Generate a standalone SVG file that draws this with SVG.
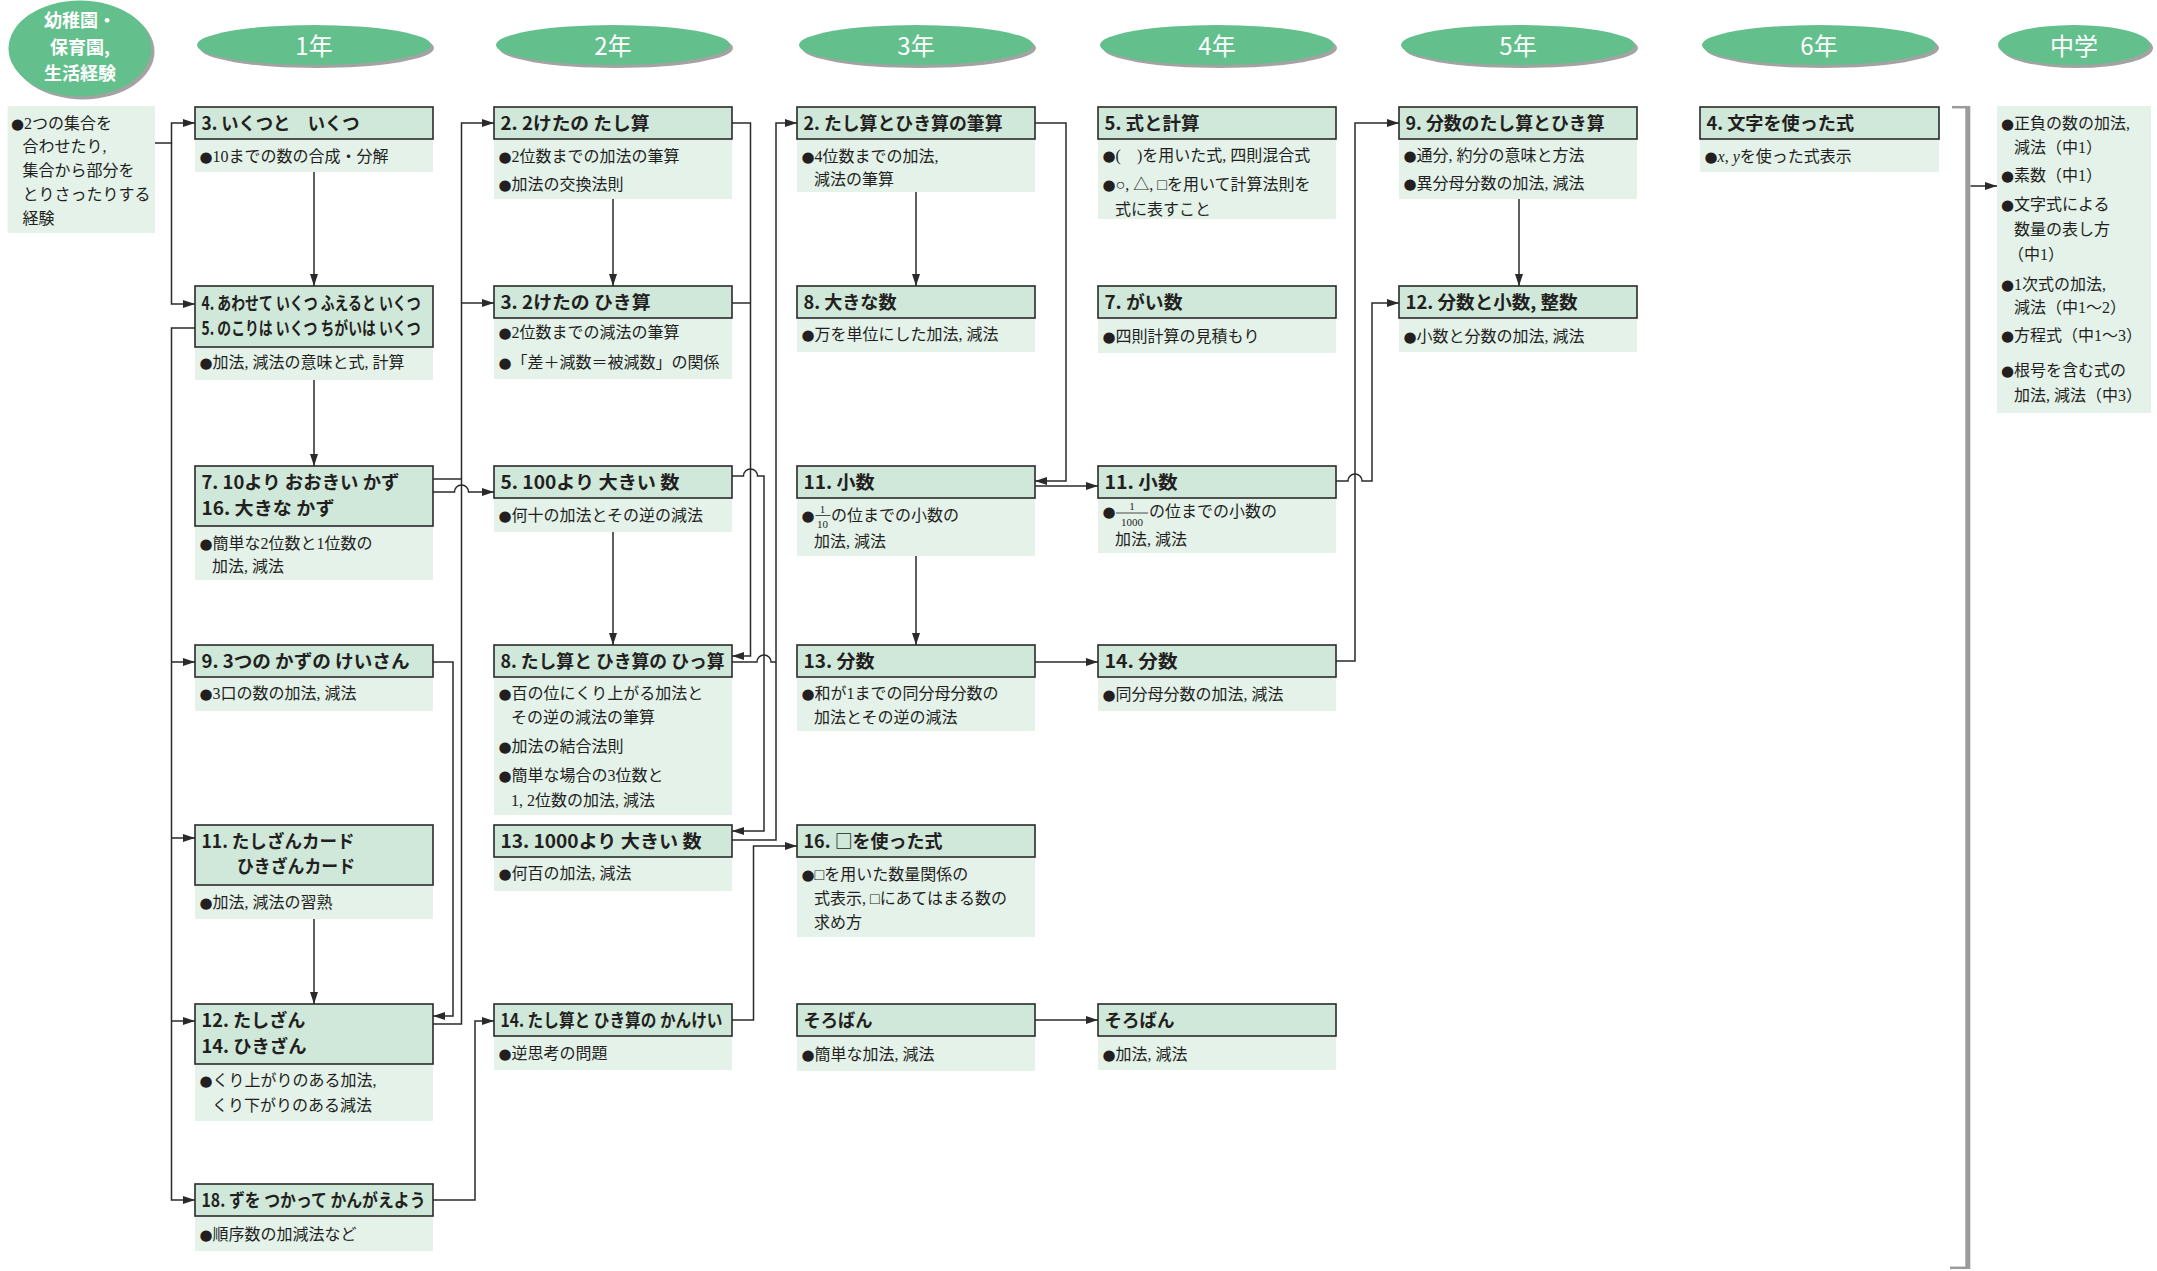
<svg xmlns="http://www.w3.org/2000/svg" width="2157" height="1271" viewBox="0 0 2157 1271">
<style>
.hd{fill:#cfe8da;stroke:#2a2a2a;stroke-width:1.6}
.bd{fill:#e4f2ea}
.ht{font-family:"Noto Sans CJK JP","Noto Sans",sans-serif;font-size:18px;font-weight:700;fill:#231f20}
.bt{font-family:"Liberation Serif","Noto Sans CJK JP",serif;font-size:16px;fill:#231f20}
.bl{font-family:"DejaVu Sans",sans-serif;font-size:15px}
.fr{font-family:"Liberation Serif",serif;font-size:11px;fill:#231f20;text-anchor:middle}
.el{fill:#63c08d}
.sh{fill:#a3a3a3}
.et{font-family:"Noto Sans CJK JP","Noto Sans",sans-serif;font-size:24px;fill:#ffffff;text-anchor:middle}
.kt{font-family:"Noto Sans CJK JP","Noto Sans",sans-serif;font-size:18px;font-weight:700;fill:#ffffff;text-anchor:middle}
.cn{fill:none;stroke:#2a2a2a;stroke-width:1.5}
.ar{marker-end:url(#ah)}
.br{fill:none;stroke:#9b9b9b}
.fb{stroke:#231f20;stroke-width:0.8}
</style>
<defs>
<marker id="ah" markerUnits="userSpaceOnUse" markerWidth="13" markerHeight="9" refX="12" refY="4" orient="auto"><path d="M0,0 L12,4 L0,8 z" fill="#2a2a2a"/></marker>
</defs>
<rect x="0" y="0" width="2157" height="1271" fill="#ffffff"/>

<!-- grade labels -->
<g id="grade-k"><ellipse class="sh" cx="83" cy="51.5" rx="71.5" ry="48"/><ellipse class="el" cx="80" cy="48.5" rx="71.5" ry="48"/>
<text class="kt" x="80" y="27">幼稚園・</text><text class="kt" x="80" y="53.5">保育園,</text><text class="kt" x="80" y="80">生活経験</text></g>
<g id="grade-1"><ellipse class="sh" cx="317" cy="48" rx="117" ry="20"/><ellipse class="el" cx="314" cy="45" rx="117" ry="20"/><text class="et" x="314" y="55">1年</text></g>
<g id="grade-2"><ellipse class="sh" cx="616" cy="48" rx="117" ry="20"/><ellipse class="el" cx="613" cy="45" rx="117" ry="20"/><text class="et" x="613" y="55">2年</text></g>
<g id="grade-3"><ellipse class="sh" cx="919" cy="48" rx="117" ry="20"/><ellipse class="el" cx="916" cy="45" rx="117" ry="20"/><text class="et" x="916" y="55">3年</text></g>
<g id="grade-4"><ellipse class="sh" cx="1220" cy="48" rx="117" ry="20"/><ellipse class="el" cx="1217" cy="45" rx="117" ry="20"/><text class="et" x="1217" y="55">4年</text></g>
<g id="grade-5"><ellipse class="sh" cx="1521" cy="48" rx="117" ry="20"/><ellipse class="el" cx="1518" cy="45" rx="117" ry="20"/><text class="et" x="1518" y="55">5年</text></g>
<g id="grade-6"><ellipse class="sh" cx="1822" cy="48" rx="117" ry="20"/><ellipse class="el" cx="1819" cy="45" rx="117" ry="20"/><text class="et" x="1819" y="55">6年</text></g>
<g id="grade-j"><ellipse class="sh" cx="2077" cy="48" rx="76" ry="20"/><ellipse class="el" cx="2074" cy="45" rx="76" ry="20"/><text class="et" x="2074" y="55">中学</text></g>

<!-- connectors -->
<g id="connectors">
<path class="cn ar" d="M155,143 H171.5 V123 H195"/>
<path class="cn ar" d="M171.5,143 V304 H195"/>
<path class="cn ar" d="M195,328 H171.5 V1200 H195"/>
<path class="cn ar" d="M171.5,662 H195"/>
<path class="cn ar" d="M171.5,838 H195"/>
<path class="cn ar" d="M171.5,1021 H195"/>
<path class="cn ar" d="M314,172 V286"/>
<path class="cn ar" d="M314,380 V466"/>
<path class="cn ar" d="M314,919 V1004"/>
<path class="cn ar" d="M433,1024 H461.5 V123 H494"/>
<path class="cn" d="M433,479 H461.5"/>
<path class="cn ar" d="M461.5,303 H494"/>
<path class="cn ar" d="M433,492 H454.5 A7,7 0 0 1 468.5,492 H494"/>
<path class="cn ar" d="M433,662 H453 V1016 H433"/>
<path class="cn ar" d="M433,1200 H475 V1021 H494"/>
<path class="cn ar" d="M613,199 V286"/>
<path class="cn ar" d="M613,532 V645"/>
<path class="cn ar" d="M732,123 H750.5 V656 H732"/>
<path class="cn" d="M732,303 H750.5"/>
<path class="cn ar" d="M732,476 H743.5 A7,7 0 0 1 757.5,476 H764 V831 H732"/>
<path class="cn" d="M732,662 H757 A7,7 0 0 1 771,662 H776"/>
<path class="cn ar" d="M732,840 H776 V123 H797"/>
<path class="cn ar" d="M732,1020 H753.5 V846 H797"/>
<path class="cn ar" d="M916,192 V286"/>
<path class="cn ar" d="M916,556 V645"/>
<path class="cn ar" d="M1035,123 H1066 V481 H1035"/>
<path class="cn ar" d="M1035,486 H1098"/>
<path class="cn ar" d="M1035,662 H1098"/>
<path class="cn ar" d="M1035,1020 H1098"/>
<path class="cn ar" d="M1336,481 H1348 A7,7 0 0 1 1362,481 H1372 V303 H1399"/>
<path class="cn ar" d="M1336,661 H1355 V123 H1399"/>
<path class="cn ar" d="M1519,199 V286"/>
<path class="br" stroke-width="2.5" d="M1952,107.2 H1968"/>
<path class="br" stroke-width="5" d="M1967.8,106 V1269"/>
<path class="br" stroke-width="2.5" d="M1950,1267.8 H1968"/>
<path class="cn ar" d="M1970.5,186 H1997"/>
</g>

<!-- kindergarten -->
<g id="kinder">
<rect class="bd" x="7.6" y="106" width="147.4" height="127"/>
<text class="bt" x="11" y="128.5"><tspan class="bl">●</tspan>2つの集合を</text>
<text class="bt" x="22.4" y="152">合わせたり,</text>
<text class="bt" x="22.4" y="176">集合から部分を</text>
<text class="bt" x="22.4" y="200">とりさったりする</text>
<text class="bt" x="22.4" y="224">経験</text>
</g>

<!-- column 1 -->
<g id="n1-3"><rect class="bd" x="195" y="139" width="238" height="33"/><rect class="hd" x="195" y="107" width="238" height="32"/>
<text class="ht" x="201.5" y="130" textLength="158" lengthAdjust="spacingAndGlyphs">3. いくつと　いくつ</text>
<text class="bt" x="199.5" y="161.5"><tspan class="bl">●</tspan>10までの数の合成・分解</text></g>
<g id="n1-4"><rect class="bd" x="195" y="347" width="238" height="33"/><rect class="hd" x="195" y="286" width="238" height="61"/>
<text class="ht" x="201.5" y="310" textLength="219" lengthAdjust="spacingAndGlyphs">4. あわせて いくつ ふえると いくつ</text>
<text class="ht" x="201.5" y="335" textLength="219" lengthAdjust="spacingAndGlyphs">5. のこりは いくつ ちがいは いくつ</text>
<text class="bt" x="199.5" y="368"><tspan class="bl">●</tspan>加法, 減法の意味と式, 計算</text></g>
<g id="n1-7"><rect class="bd" x="195" y="526" width="238" height="54"/><rect class="hd" x="195" y="466" width="238" height="60"/>
<text class="ht" x="201.5" y="488.5" textLength="198" lengthAdjust="spacingAndGlyphs">7. 10より おおきい かず</text>
<text class="ht" x="201.5" y="514.5" textLength="133" lengthAdjust="spacingAndGlyphs">16. 大きな かず</text>
<text class="bt" x="199.5" y="549"><tspan class="bl">●</tspan>簡単な2位数と1位数の</text>
<text class="bt" x="212" y="572">加法, 減法</text></g>
<g id="n1-9"><rect class="bd" x="195" y="677" width="238" height="34"/><rect class="hd" x="195" y="645" width="238" height="32"/>
<text class="ht" x="201.5" y="668" textLength="208" lengthAdjust="spacingAndGlyphs">9. 3つの かずの けいさん</text>
<text class="bt" x="199.5" y="699"><tspan class="bl">●</tspan>3口の数の加法, 減法</text></g>
<g id="n1-11"><rect class="bd" x="195" y="885" width="238" height="34"/><rect class="hd" x="195" y="825" width="238" height="60"/>
<text class="ht" x="201.5" y="847.5" textLength="153" lengthAdjust="spacingAndGlyphs">11. たしざんカード</text>
<text class="ht" x="237" y="873" textLength="118" lengthAdjust="spacingAndGlyphs">ひきざんカード</text>
<text class="bt" x="199.5" y="908"><tspan class="bl">●</tspan>加法, 減法の習熟</text></g>
<g id="n1-12"><rect class="bd" x="195" y="1064" width="238" height="57"/><rect class="hd" x="195" y="1004" width="238" height="60"/>
<text class="ht" x="201.5" y="1026.5" textLength="104" lengthAdjust="spacingAndGlyphs">12. たしざん</text>
<text class="ht" x="201.5" y="1053" textLength="105" lengthAdjust="spacingAndGlyphs">14. ひきざん</text>
<text class="bt" x="199.5" y="1086"><tspan class="bl">●</tspan>くり上がりのある加法,</text>
<text class="bt" x="212" y="1111">くり下がりのある減法</text></g>
<g id="n1-18"><rect class="bd" x="195" y="1216" width="238" height="35"/><rect class="hd" x="195" y="1184" width="238" height="32"/>
<text class="ht" x="201.5" y="1207" textLength="224" lengthAdjust="spacingAndGlyphs">18. ずを つかって かんがえよう</text>
<text class="bt" x="199.5" y="1239.5"><tspan class="bl">●</tspan>順序数の加減法など</text></g>

<!-- column 2 -->
<g id="n2-2"><rect class="bd" x="494" y="139" width="238" height="60"/><rect class="hd" x="494" y="107" width="238" height="32"/>
<text class="ht" x="500.5" y="130" textLength="149" lengthAdjust="spacingAndGlyphs">2. 2けたの たし算</text>
<text class="bt" x="498.5" y="161.5"><tspan class="bl">●</tspan>2位数までの加法の筆算</text>
<text class="bt" x="498.5" y="190"><tspan class="bl">●</tspan>加法の交換法則</text></g>
<g id="n2-3"><rect class="bd" x="494" y="318" width="238" height="61"/><rect class="hd" x="494" y="286" width="238" height="32"/>
<text class="ht" x="500.5" y="309" textLength="150" lengthAdjust="spacingAndGlyphs">3. 2けたの ひき算</text>
<text class="bt" x="498.5" y="338"><tspan class="bl">●</tspan>2位数までの減法の筆算</text>
<text class="bt" x="498.5" y="368"><tspan class="bl">●</tspan>「差＋減数＝被減数」の関係</text></g>
<g id="n2-5"><rect class="bd" x="494" y="498" width="238" height="34"/><rect class="hd" x="494" y="466" width="238" height="32"/>
<text class="ht" x="500.5" y="489" textLength="179" lengthAdjust="spacingAndGlyphs">5. 100より 大きい 数</text>
<text class="bt" x="498.5" y="520.5"><tspan class="bl">●</tspan>何十の加法とその逆の減法</text></g>
<g id="n2-8"><rect class="bd" x="494" y="677" width="238" height="138"/><rect class="hd" x="494" y="645" width="238" height="32"/>
<text class="ht" x="500.5" y="668" textLength="224" lengthAdjust="spacingAndGlyphs">8. たし算と ひき算の ひっ算</text>
<text class="bt" x="498.5" y="699"><tspan class="bl">●</tspan>百の位にくり上がる加法と</text>
<text class="bt" x="511" y="723">その逆の減法の筆算</text>
<text class="bt" x="498.5" y="752"><tspan class="bl">●</tspan>加法の結合法則</text>
<text class="bt" x="498.5" y="780.5"><tspan class="bl">●</tspan>簡単な場合の3位数と</text>
<text class="bt" x="511" y="805.5">1, 2位数の加法, 減法</text></g>
<g id="n2-13"><rect class="bd" x="494" y="857" width="238" height="34"/><rect class="hd" x="494" y="825" width="238" height="32"/>
<text class="ht" x="500.5" y="848" textLength="201" lengthAdjust="spacingAndGlyphs">13. 1000より 大きい 数</text>
<text class="bt" x="498.5" y="878.5"><tspan class="bl">●</tspan>何百の加法, 減法</text></g>
<g id="n2-14"><rect class="bd" x="494" y="1036" width="238" height="34"/><rect class="hd" x="494" y="1004" width="238" height="32"/>
<text class="ht" x="500.5" y="1027" textLength="222" lengthAdjust="spacingAndGlyphs">14. たし算と ひき算の かんけい</text>
<text class="bt" x="498.5" y="1058.5"><tspan class="bl">●</tspan>逆思考の問題</text></g>

<!-- column 3 -->
<g id="n3-2"><rect class="bd" x="797" y="139" width="238" height="53"/><rect class="hd" x="797" y="107" width="238" height="32"/>
<text class="ht" x="803.5" y="130" textLength="199" lengthAdjust="spacingAndGlyphs">2. たし算とひき算の筆算</text>
<text class="bt" x="801.5" y="161.5"><tspan class="bl">●</tspan>4位数までの加法,</text>
<text class="bt" x="814" y="184.5">減法の筆算</text></g>
<g id="n3-8"><rect class="bd" x="797" y="318" width="238" height="34"/><rect class="hd" x="797" y="286" width="238" height="32"/>
<text class="ht" x="803.5" y="309" textLength="93" lengthAdjust="spacingAndGlyphs">8. 大きな数</text>
<text class="bt" x="801.5" y="340"><tspan class="bl">●</tspan>万を単位にした加法, 減法</text></g>
<g id="n3-11"><rect class="bd" x="797" y="498" width="238" height="58"/><rect class="hd" x="797" y="466" width="238" height="32"/>
<text class="ht" x="803.5" y="489" textLength="71" lengthAdjust="spacingAndGlyphs">11. 小数</text>
<text class="bt" x="801.5" y="521"><tspan class="bl">●</tspan></text>
<text class="fr" x="822.5" y="513">1</text><line class="fb" x1="815.5" y1="515.5" x2="830.5" y2="515.5"/><text class="fr" x="822.5" y="528">10</text>
<text class="bt" x="831" y="521">の位までの小数の</text>
<text class="bt" x="814" y="547">加法, 減法</text></g>
<g id="n3-13"><rect class="bd" x="797" y="677" width="238" height="54"/><rect class="hd" x="797" y="645" width="238" height="32"/>
<text class="ht" x="803.5" y="668" textLength="71" lengthAdjust="spacingAndGlyphs">13. 分数</text>
<text class="bt" x="801.5" y="699"><tspan class="bl">●</tspan>和が1までの同分母分数の</text>
<text class="bt" x="814" y="723">加法とその逆の減法</text></g>
<g id="n3-16"><rect class="bd" x="797" y="857" width="238" height="80"/><rect class="hd" x="797" y="825" width="238" height="32"/>
<text class="ht" x="803.5" y="848" textLength="139" lengthAdjust="spacingAndGlyphs">16. □を使った式</text>
<text class="bt" x="801.5" y="879.5"><tspan class="bl">●</tspan>□を用いた数量関係の</text>
<text class="bt" x="814" y="903.5">式表示, □にあてはまる数の</text>
<text class="bt" x="814" y="927.5">求め方</text></g>
<g id="n3-soroban"><rect class="bd" x="797" y="1036" width="238" height="35"/><rect class="hd" x="797" y="1004" width="238" height="32"/>
<text class="ht" x="803.5" y="1027" textLength="69" lengthAdjust="spacingAndGlyphs">そろばん</text>
<text class="bt" x="801.5" y="1060"><tspan class="bl">●</tspan>簡単な加法, 減法</text></g>

<!-- column 4 -->
<g id="n4-5"><rect class="bd" x="1098" y="139" width="238" height="80"/><rect class="hd" x="1098" y="107" width="238" height="32"/>
<text class="ht" x="1104.5" y="130" textLength="95" lengthAdjust="spacingAndGlyphs">5. 式と計算</text>
<text class="bt" x="1102.5" y="161"><tspan class="bl">●</tspan>(　)を用いた式, 四則混合式</text>
<text class="bt" x="1102.5" y="190"><tspan class="bl">●</tspan>○, △, □を用いて計算法則を</text>
<text class="bt" x="1115" y="214.5">式に表すこと</text></g>
<g id="n4-7"><rect class="bd" x="1098" y="318" width="238" height="35"/><rect class="hd" x="1098" y="286" width="238" height="32"/>
<text class="ht" x="1104.5" y="309" textLength="78" lengthAdjust="spacingAndGlyphs">7. がい数</text>
<text class="bt" x="1102.5" y="341.5"><tspan class="bl">●</tspan>四則計算の見積もり</text></g>
<g id="n4-11"><rect class="bd" x="1098" y="498" width="238" height="55"/><rect class="hd" x="1098" y="466" width="238" height="32"/>
<text class="ht" x="1104.5" y="489" textLength="73" lengthAdjust="spacingAndGlyphs">11. 小数</text>
<text class="bt" x="1102.5" y="517"><tspan class="bl">●</tspan></text>
<text class="fr" x="1132" y="509.5">1</text><line class="fb" x1="1116" y1="513" x2="1148" y2="513"/><text class="fr" x="1132" y="526">1000</text>
<text class="bt" x="1149" y="517">の位までの小数の</text>
<text class="bt" x="1115" y="545">加法, 減法</text></g>
<g id="n4-14"><rect class="bd" x="1098" y="677" width="238" height="34"/><rect class="hd" x="1098" y="645" width="238" height="32"/>
<text class="ht" x="1104.5" y="668" textLength="73" lengthAdjust="spacingAndGlyphs">14. 分数</text>
<text class="bt" x="1102.5" y="699.5"><tspan class="bl">●</tspan>同分母分数の加法, 減法</text></g>
<g id="n4-soroban"><rect class="bd" x="1098" y="1036" width="238" height="34"/><rect class="hd" x="1098" y="1004" width="238" height="32"/>
<text class="ht" x="1104.5" y="1027" textLength="70" lengthAdjust="spacingAndGlyphs">そろばん</text>
<text class="bt" x="1102.5" y="1059.5"><tspan class="bl">●</tspan>加法, 減法</text></g>

<!-- column 5 -->
<g id="n5-9"><rect class="bd" x="1399" y="139" width="238" height="60"/><rect class="hd" x="1399" y="107" width="238" height="32"/>
<text class="ht" x="1405.5" y="130" textLength="199" lengthAdjust="spacingAndGlyphs">9. 分数のたし算とひき算</text>
<text class="bt" x="1403.5" y="160.5"><tspan class="bl">●</tspan>通分, 約分の意味と方法</text>
<text class="bt" x="1403.5" y="189"><tspan class="bl">●</tspan>異分母分数の加法, 減法</text></g>
<g id="n5-12"><rect class="bd" x="1399" y="318" width="238" height="34"/><rect class="hd" x="1399" y="286" width="238" height="32"/>
<text class="ht" x="1405.5" y="309" textLength="172" lengthAdjust="spacingAndGlyphs">12. 分数と小数, 整数</text>
<text class="bt" x="1403.5" y="341.5"><tspan class="bl">●</tspan>小数と分数の加法, 減法</text></g>

<!-- column 6 -->
<g id="n6-4"><rect class="bd" x="1700" y="139" width="239" height="33"/><rect class="hd" x="1700" y="107" width="239" height="32"/>
<text class="ht" x="1706.5" y="130" textLength="147.5" lengthAdjust="spacingAndGlyphs">4. 文字を使った式</text>
<text class="bt" x="1704.5" y="161.5"><tspan class="bl">●</tspan><tspan font-style="italic">x</tspan>, <tspan font-style="italic">y</tspan>を使った式表示</text></g>

<!-- junior high -->
<g id="junior">
<rect class="bd" x="1997" y="106" width="154" height="307"/>
<text class="bt" x="2001" y="128.5"><tspan class="bl">●</tspan>正負の数の加法,</text>
<text class="bt" x="2014" y="152.5">減法（中1）</text>
<text class="bt" x="2001" y="180.5"><tspan class="bl">●</tspan>素数（中1）</text>
<text class="bt" x="2001" y="209.5"><tspan class="bl">●</tspan>文字式による</text>
<text class="bt" x="2014" y="234.5">数量の表し方</text>
<text class="bt" x="2008" y="259.5">（中1）</text>
<text class="bt" x="2001" y="289.5"><tspan class="bl">●</tspan>1次式の加法,</text>
<text class="bt" x="2014" y="313">減法（中1〜2）</text>
<text class="bt" x="2001" y="341"><tspan class="bl">●</tspan>方程式（中1〜3）</text>
<text class="bt" x="2001" y="376"><tspan class="bl">●</tspan>根号を含む式の</text>
<text class="bt" x="2014" y="401">加法, 減法（中3）</text>
</g>
</svg>
